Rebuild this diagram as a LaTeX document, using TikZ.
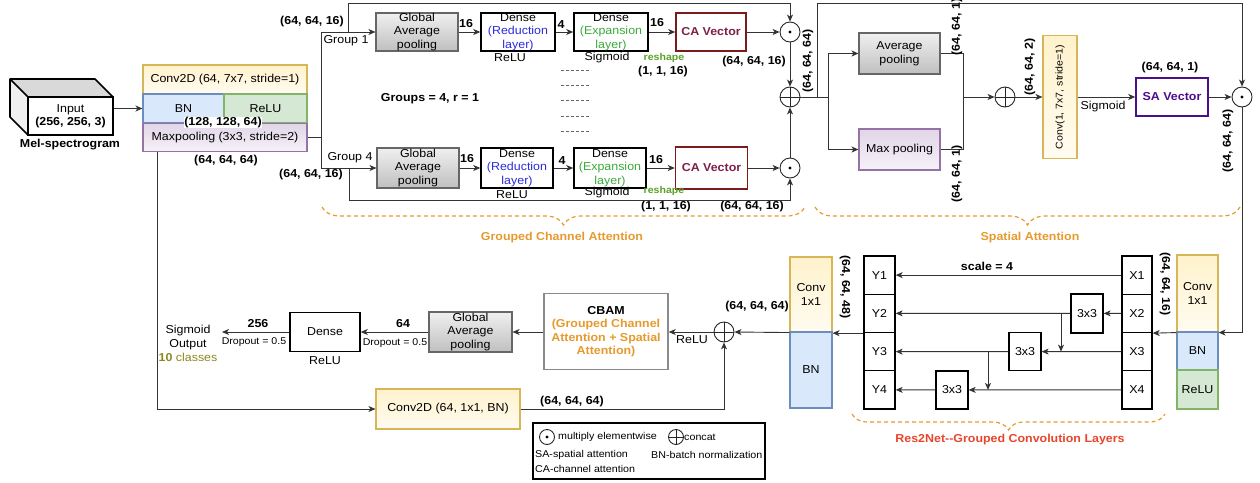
\documentclass[tikz,border=0pt]{standalone}
\usepackage{fontspec}
\setmainfont{Liberation Sans}[FakeStretch=1.08]
\usetikzlibrary{arrows.meta,decorations.pathreplacing,calc}
\definecolor{yfill}{HTML}{FFF2CC}\definecolor{ydraw}{HTML}{D6B656}
\definecolor{bfill}{HTML}{DAE8FC}\definecolor{bdraw}{HTML}{6C8EBF}
\definecolor{gfill}{HTML}{D5E8D4}\definecolor{gdraw}{HTML}{82B366}
\definecolor{pfill}{HTML}{E1D5E7}\definecolor{pdraw}{HTML}{9673A6}
\definecolor{orangeT}{HTML}{E69A2E}\definecolor{redT}{HTML}{E8452C}
\definecolor{caC}{HTML}{7A1C1C}\definecolor{caT}{HTML}{80204A}
\definecolor{saC}{HTML}{4C0F8C}\definecolor{cbamC}{HTML}{8A8A8A}
\definecolor{blueT}{HTML}{2B2BD9}\definecolor{greenT}{HTML}{3BAA3B}
\definecolor{reshapeT}{HTML}{5AA02C}\definecolor{oliveT}{HTML}{8A8A1E}
\tikzset{
 ln/.style={line width=0.9pt, draw=black!80},
 arr/.style={ln, -{Stealth[length=7pt,width=6pt,inset=2pt]}},
 lab/.style={inner sep=0pt, font=\fontsize{11.5}{13.5}\selectfont},
 blab/.style={inner sep=0pt, font=\fontsize{11.5}{13.5}\selectfont\bfseries},
 slab/.style={inner sep=0pt, font=\fontsize{9.8}{11}\selectfont},
 leglab/.style={inner sep=0pt, anchor=west, font=\fontsize{9.9}{11}\selectfont},
 sz/.style 2 args={minimum width=#1pt, minimum height=#2pt},
 bx/.style={draw, rectangle, inner sep=0pt, align=center, line width=1.1pt, font=\fontsize{11.5}{13.5}\selectfont},
 ybox/.style={bx, draw=ydraw, top color=yfill, bottom color=yfill!30!white},
 bbox/.style={bx, draw=bdraw, fill=bfill},
 gbox/.style={bx, draw=gdraw, fill=gfill},
 pbox/.style={bx, draw=pdraw, top color=pfill, bottom color=pfill!30!white},
 graybox/.style={bx, draw=black!60, top color=gray!12, bottom color=gray!50},
 kbox/.style={bx, draw=black, line width=1.5pt, fill=white},
 cell/.style={bx, draw=black, line width=1.3pt, fill=white},
 cabox/.style={bx, draw=caC, line width=1.5pt, fill=white, text=caT, font=\fontsize{11.5}{13.5}\selectfont\bfseries},
 sabox/.style={bx, draw=saC, line width=1.5pt, fill=white, text=saC, font=\fontsize{11.5}{13.5}\selectfont\bfseries},
 mul/.style={circle, draw=black!85, line width=0.9pt, fill=white, minimum size=20pt, inner sep=0pt,
   path picture={\fill[black] (path picture bounding box.center) circle (1.7pt);}},
 cat/.style={circle, draw=black!85, line width=0.9pt, fill=white, minimum size=20pt, inner sep=0pt,
   path picture={\draw[line width=0.9pt] (path picture bounding box.north) -- (path picture bounding box.south) (path picture bounding box.west) -- (path picture bounding box.east);}},
 brc/.style={draw=orangeT, line width=1.2pt, dash pattern=on 4pt off 3pt, decorate},
}
\begin{document}
\begin{tikzpicture}[x=1pt,y=-1pt]
\useasboundingbox (0,0) rectangle (1260,482);

% ---------- input cube
\fill[gray!30] (28,97) -- (10,79) -- (95,79) -- (113,97) -- cycle;
\fill[gray!12] (28,97) -- (10,79) -- (10,117) -- (28,135) -- cycle;
\draw[line width=1.6pt, line join=round] (28,97) -- (10,79) -- (95,79) -- (113,97) (10,79) -- (10,117) -- (28,135);
\node[bx, line width=1.6pt, fill=white, sz={85}{38}] (inp) at (70.5,116) {Input\\\textbf{(256, 256, 3)}};
\node[blab] (mel) at (70,145) {Mel-spectrogram};

% ---------- conv stack
\node[ybox, sz={164}{29}] (c2d) at (225,79.5) {Conv2D (64, 7x7, stride=1)};
\node[bbox, sz={81}{29}] (bn1) at (183.5,108.5) {BN};
\node[gbox, sz={83}{29}] (relu1) at (265.5,108.5) {ReLU};
\node[pbox, sz={164}{28}] (mp) at (225,137.5) {Maxpooling (3x3, stride=2)};
\node[blab, fill=white, inner sep=0.5pt] (l128) at (223,122.5) {(128, 128, 64)};
\node[blab] (l64a) at (226,161) {(64, 64, 64)};
\draw[arr] (inp.east |- bn1.west) -- (bn1.west);

% ---------- group split
\coordinate (gs) at (321,137.5);
\coordinate (g1) at (321,32);
\coordinate (g4) at (321,168);
\draw[ln] (mp.east) -- (gs);
\draw[ln] (g1) -- (g4);
\node[blab] at (312,22) {(64, 64, 16)};
\node[blab] at (311,175) {(64, 64, 16)};
\node[lab] at (346,41) {Group 1};
\node[lab] at (350,158) {Group 4};

% ---------- row 1
\node[graybox, sz={82}{38}] (gap1) at (417,32) {Global\\Average\\pooling};
\node[kbox, sz={74}{38}] (d11) at (518,32) {Dense\\\textcolor{blueT}{(Reduction}\\\textcolor{blueT}{layer)}};
\node[kbox, sz={74}{38}] (d12) at (611,32) {Dense\\\textcolor{greenT}{(Expansion}\\\textcolor{greenT}{layer)}};
\node[cabox, sz={70}{38}] (ca1) at (711,32) {CA Vector};
\node[mul] (m1) at (790,32) {};
\draw[arr] (g1) -- (gap1.west);
\draw[arr] (gap1) -- (d11);
\draw[arr] (d11) -- (d12);
\draw[arr] (d12) -- (ca1);
\draw[arr] (ca1) -- (m1);
\node[blab] at (466,24) {16};
\node[blab] at (561,25) {4};
\node[blab] at (657,23) {16};
\node[lab] at (510,58) {ReLU};
\node[lab] at (607,58) {Sigmoid};
\node[inner sep=0pt, font=\fontsize{9.8}{11}\selectfont\bfseries, text=reshapeT] at (664,58) {reshape};
\node[blab] at (663,72) {(1, 1, 16)};
\node[blab] at (754,62) {(64, 64, 16)};
\coordinate (s1) at (348,32);
\coordinate (s1t) at (348,3.5);
\draw[arr] (s1) -- (s1t) -| (m1.north);

% ---------- dots and group note
\foreach \yy in {70,85,100,116,131}
  \draw[black!60, line width=0.7pt, dash pattern=on 3pt off 2pt] (561,\yy) -- (591,\yy);
\node[blab] at (430,99) {Groups = 4, r = 1};

% ---------- row 4
\node[graybox, sz={82}{40}] (gap4) at (418,168) {Global\\Average\\pooling};
\node[kbox, sz={72}{40}] (d41) at (517,168) {Dense\\\textcolor{blueT}{(Reduction}\\\textcolor{blueT}{layer)}};
\node[kbox, sz={72}{40}] (d42) at (610,168) {Dense\\\textcolor{greenT}{(Expansion}\\\textcolor{greenT}{layer)}};
\node[cabox, sz={72}{42}] (ca4) at (711.5,168) {CA Vector};
\node[mul] (m4) at (790,168) {};
\draw[arr] (g4) -- (gap4.west);
\draw[arr] (gap4) -- (d41);
\draw[arr] (d41) -- (d42);
\draw[arr] (d42) -- (ca4);
\draw[arr] (ca4) -- (m4);
\node[blab] at (467,159) {16};
\node[blab] at (562,161) {4};
\node[blab] at (656,160) {16};
\node[lab] at (512,195) {ReLU};
\node[lab] at (607,193) {Sigmoid};
\node[inner sep=0pt, font=\fontsize{9.8}{11}\selectfont\bfseries, text=reshapeT] at (664,191) {reshape};
\node[blab] at (666,207) {(1, 1, 16)};
\node[blab] at (752,207) {(64, 64, 16)};
\coordinate (s4) at (349,168);
\coordinate (s4b) at (349,200);
\draw[arr] (s4) -- (s4b) -| (m4.south);

% ---------- concat of groups
\node[cat] (p1) at (790,97) {};
\draw[arr] (m1.south) -- (p1.north);
\draw[arr] (m4.north) -- (p1.south);
\node[blab, rotate=90] at (808,61) {(64, 64, 64)};

% ---------- spatial attention
\node[graybox, sz={81}{41}] (avg) at (899.5,53.5) {Average\\pooling};
\node[pbox, sz={81}{41}] (maxp) at (899.5,149.5) {Max pooling};
\coordinate (j1) at (828,97);
\coordinate (sk) at (817,97);
\coordinate (skt) at (817,3.5);
\node[mul] (m5) at (1242,97) {};
\draw[ln] (p1.east) -- (j1);
\draw[arr] (sk) -- (skt) -| (m5.north);
\draw[arr] (j1) |- (avg.west);
\draw[arr] (j1) |- (maxp.west);
\coordinate (jr) at (963,97);
\draw[ln] (avg.east) -| (jr);
\draw[ln] (maxp.east) -| (jr);
\node[cat] (p2) at (1005,97) {};
\draw[arr] (jr) -- (p2.west);
\node[ybox, sz={34}{123}] (cv7) at (1060,97) {};
\node[inner sep=0pt, rotate=90, font=\fontsize{9.8}{11}\selectfont] (cv7t) at (cv7.center) {Conv(1, 7x7, stride=1)};
\draw[arr] (p2.east) -- (cv7.west);
\node[sabox, sz={72}{38}] (sa) at (1172,97) {SA Vector};
\draw[arr] (cv7.east) -- (sa.west);
\node[lab] at (1103,107) {Sigmoid};
\node[blab] at (1170,68) {(64, 64, 1)};
\draw[arr] (sa.east) -- (m5.west);
\node[blab, rotate=90] at (957,27) {(64, 64, 1)};
\node[blab, rotate=90] at (957,174) {(64, 64, 1)};
\node[blab, rotate=90] at (1030,67) {(64, 64, 2)};
\node[blab, rotate=90] at (1228,141) {(64, 64, 64)};

% ---------- braces
\draw[brc, decoration={brace, mirror, amplitude=18pt}] (322,207) -- (805,207);
\node[blab, text=orangeT] at (562,238) {Grouped Channel Attention};
\draw[brc, decoration={brace, mirror, amplitude=18pt}] (815,207) -- (1240,207);
\node[blab, text=orangeT] at (1030,238) {Spatial Attention};

% ---------- Res2Net block
\node[ybox, sz={41}{77}] (rc) at (1197.5,293.5) {Conv\\1x1};
\node[bbox, sz={41}{38}] (rbn) at (1197.5,351) {BN};
\node[gbox, sz={41}{39}] (rrl) at (1197.5,389.5) {ReLU};
\draw[arr] (m5.south) |- (rc.south east);

\node[cell, sz={30}{38.25}] (x1) at (1137,275.125) {X1};
\node[cell, sz={30}{38.25}] (x2) at (1137,313.375) {X2};
\node[cell, sz={30}{38.25}] (x3) at (1137,351.625) {X3};
\node[cell, sz={30}{38.25}] (x4) at (1137,389.875) {X4};
\node[cell, sz={31}{38.25}] (y1) at (879.5,275.125) {Y1};
\node[cell, sz={31}{38.25}] (y2) at (879.5,313.375) {Y2};
\node[cell, sz={31}{38.25}] (y3) at (879.5,351.625) {Y3};
\node[cell, sz={31}{38.25}] (y4) at (879.5,389.875) {Y4};
\draw[arr] (rc.south west) -- (x2.south east);
\node[blab, rotate=-90] at (1165,284) {(64, 64, 16)};
\node[blab, rotate=-90] at (845,287) {(64, 64, 48)};
\node[blab] at (987,266) {scale = 4};

\node[cell, sz={32}{39}] (ka) at (1087,313.4) {3x3};
\node[cell, sz={32}{38}] (kb) at (1025,351.6) {3x3};
\node[cell, sz={32}{38}] (kc) at (952,389.9) {3x3};
\draw[arr] (x1.west) -- (y1.east);
\draw[arr] (x2.west) -- (ka.east);
\draw[arr] (ka.west) -- (y2.east);
\draw[arr] (x3.west) -- (kb.east);
\draw[arr] (kb.west) -- (y3.east);
\draw[arr] (x4.west) -- (kc.east);
\draw[arr] (kc.west) -- (y4.east);
\coordinate (ba) at (1061,313.4);
\coordinate (bae) at (1061,351.6);
\draw[arr] (ba) -- (bae);
\coordinate (bb) at (988,351.6);
\coordinate (bbe) at (988,389.9);
\draw[arr] (bb) -- (bbe);
\draw[brc, decoration={brace, mirror, amplitude=16pt}] (852,414) -- (1165,414);
\node[blab, text=redT] at (1010,440) {Res2Net-{}-Grouped Convolution Layers};

% ---------- left conv 1x1 + BN
\node[ybox, sz={42}{75}] (lc) at (811,294.5) {Conv\\1x1};
\node[bbox, sz={42}{76}] (lbn) at (811,370) {BN};
\draw[arr] (y2.south west) -- (y2.south west -| lc.east);
\node[cat] (p3) at (724,332) {};
\draw[arr] (lc.south west) -- (p3.east);
\node[blab] at (757,307) {(64, 64, 64)};

% ---------- CBAM and head
\node[bx, draw=cbamC, line width=1.4pt, fill=white, sz={124}{76}] (cbam) at (606,331.5) {\textbf{CBAM}\\\textcolor{orangeT}{\textbf{(Grouped Channel}}\\\textcolor{orangeT}{\textbf{Attention + Spatial}}\\\textcolor{orangeT}{\textbf{Attention)}}};
\draw[arr] (p3.west) -- (cbam.east |- p3.west);
\node[lab] at (692,340) {ReLU};
\node[graybox, sz={83}{40}] (gapb) at (470.5,332) {Global\\Average\\pooling};
\draw[arr] (cbam.west |- gapb.east) -- (gapb.east);
\node[kbox, sz={70}{39}] (dn) at (325,332) {Dense};
\draw[arr] (gapb.west) -- (dn.east);
\node[blab] at (403,324) {64};
\node[slab] at (395,343) {Dropout = 0.5};
\node[lab] at (325,361) {ReLU};
\coordinate (outp) at (222,332);
\draw[arr] (dn.west) -- (outp);
\node[blab] at (258,324) {256};
\node[slab] at (254,342) {Dropout = 0.5};
\node[inner sep=0pt, align=center, font=\fontsize{11.5}{14}\selectfont] (outtxt) at (188,343) {Sigmoid\\Output\\\textcolor{oliveT}{\textbf{10} classes}};

% ---------- shortcut
\coordinate (sc) at (157,151.5);
\node[ybox, sz={144}{40}] (c2b) at (448,409) {Conv2D (64, 1x1, BN)};
\draw[arr] (sc) |- (c2b.west);
\draw[arr] (c2b.east) -| (p3.south);
\node[blab] at (572,402) {(64, 64, 64)};

% ---------- legend
\node[draw=black, line width=1.2pt, rectangle, sz={232}{56}] (leg) at (649,451) {};
\node[mul, minimum size=15pt] (lm) at (547,437) {};
\node[leglab] at (558,437) {multiply elementwise};
\node[cat, minimum size=15pt] (lp) at (676,437) {};
\node[leglab] at (684,437) {concat};
\node[leglab] at (535,455) {SA-spatial attention};
\node[leglab] at (651,455) {BN-batch normalization};
\node[leglab] at (535,469) {CA-channel attention};
\end{tikzpicture}
\end{document}
